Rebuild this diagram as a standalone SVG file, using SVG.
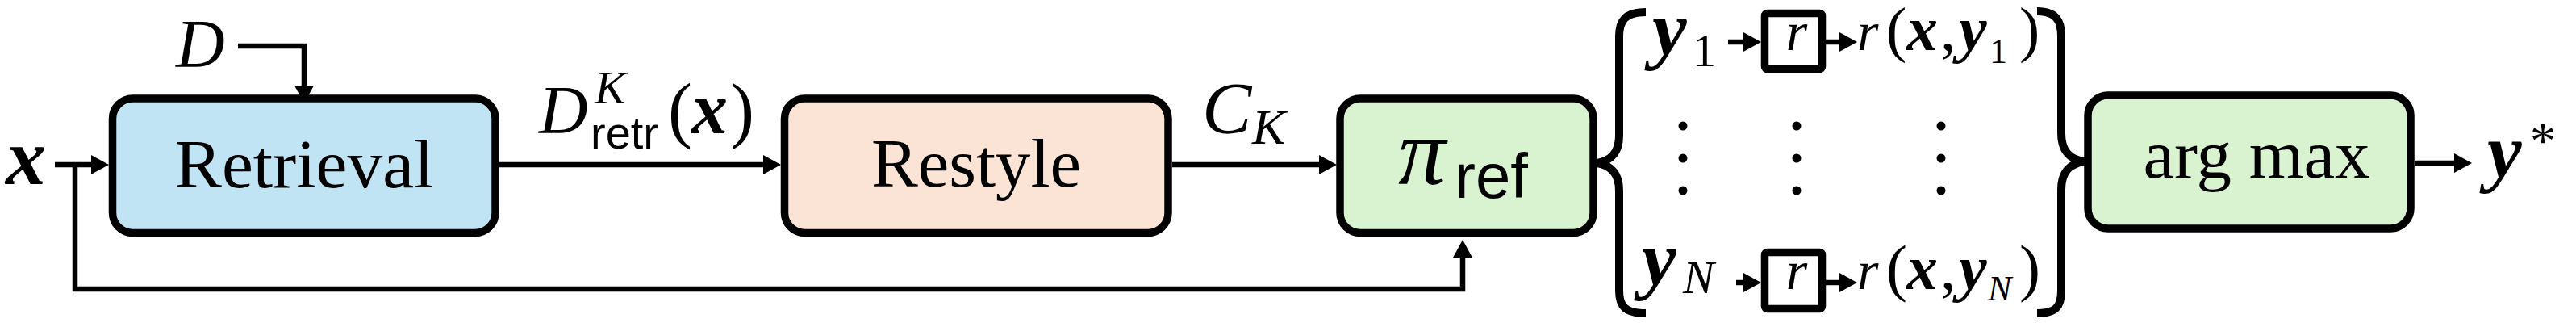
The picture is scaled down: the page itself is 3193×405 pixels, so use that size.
<svg xmlns="http://www.w3.org/2000/svg" width="3193" height="405" viewBox="0 0 3193 405">
<style>
.box{stroke:#000;stroke-width:9.5}
.blue{fill:#C1E4F5}.peach{fill:#FBE3D6}.green{fill:#D9F2D0}
.rbox{fill:#fff;stroke:#000;stroke-width:9.5}
.ln{fill:none;stroke:#000;stroke-width:6.5}
.brace{fill:none;stroke:#000;stroke-width:10}
.rm{font-family:"Liberation Serif","DejaVu Serif",serif;fill:#000}
.it{font-family:"Liberation Serif","DejaVu Serif",serif;font-style:italic;fill:#000}
.bi{font-family:"Liberation Serif","DejaVu Serif",serif;font-style:italic;font-weight:bold;fill:#000}
.sf{font-family:"Liberation Sans","DejaVu Sans",sans-serif;fill:#000}
</style>
<defs>
<marker id="ah" viewBox="0 0 22 24" refX="1" refY="12" markerWidth="22" markerHeight="24" markerUnits="userSpaceOnUse" orient="auto">
<path d="M0,0 L22,12 L0,24 z" fill="#000"/>
</marker>
</defs>

<g id="connectors">
<path class="ln" d="M68,204 H114" marker-end="url(#ah)"/>
<path class="ln" d="M93,204 V358 H1813 V318" marker-end="url(#ah)"/>
<path class="ln" d="M295,57 H377 V107" marker-end="url(#ah)"/>
<path class="ln" d="M618,204 H947" marker-end="url(#ah)"/>
<path class="ln" d="M1453,204 H1636" marker-end="url(#ah)"/>
<path class="ln" d="M2993,202 H3043" marker-end="url(#ah)"/>
<path class="ln" d="M2142,52 H2162" marker-end="url(#ah)"/>
<path class="ln" d="M2263,52 H2281" marker-end="url(#ah)"/>
<path class="ln" d="M2152,350 H2162" marker-end="url(#ah)"/>
<path class="ln" d="M2263,350 H2281" marker-end="url(#ah)"/>
<path class="brace" d="M2040,15 C2015,15 2007,25 2007,45 L2007,168 C2007,190 1996,199 1980,202 C1996,205 2007,214 2007,236 L2007,360 C2007,380 2015,388 2040,388"/>
<path class="brace" d="M2525,14 C2548,14 2555,25 2555,45 L2555,165 C2555,188 2566,197 2583,200 C2566,203 2555,212 2555,235 L2555,360 C2555,380 2548,388 2525,388"/>
</g>

<g id="input-x">
<text class="bi" x="7" y="228" font-size="100">x</text>
</g>

<g id="input-D">
<text class="it" x="218" y="83" font-size="84">D</text>
</g>

<g id="node-retrieval">
<rect class="box blue" x="139.5" y="122" width="474.5" height="166.5" rx="25"/>
<text class="rm" x="377" y="232" font-size="84" text-anchor="middle" textLength="321" lengthAdjust="spacingAndGlyphs">Retrieval</text>
</g>

<g id="label-dretr">
<text class="it" x="668" y="165" font-size="84">D</text>
<text class="it" x="737" y="128" font-size="58">K</text>
<text class="sf" x="732" y="184" font-size="56">retr</text>
<text class="rm" x="828" y="166" font-size="90">(</text>
<text class="bi" x="857" y="165" font-size="90">x</text>
<text class="rm" x="905" y="166" font-size="90">)</text>
</g>

<g id="node-restyle">
<rect class="box peach" x="972.5" y="122" width="475.5" height="166.5" rx="25"/>
<text class="rm" x="1210" y="231" font-size="84" text-anchor="middle" textLength="260" lengthAdjust="spacingAndGlyphs">Restyle</text>
</g>

<g id="label-ck">
<text class="it" x="1490" y="165" font-size="92">C</text>
<text class="it" x="1552" y="178" font-size="62">K</text>
</g>

<g id="node-piref">
<rect class="box green" x="1661" y="122" width="314" height="166.5" rx="25"/>
<text class="it" x="1733" y="228" font-size="118">π</text>
<text class="sf" x="1803" y="245" font-size="78">ref</text>
</g>

<g id="row-1">
<text class="bi" x="2048" y="68" font-size="96">y</text>
<text class="rm" x="2098" y="82" font-size="58">1</text>
<rect class="rbox" x="2187.5" y="16.5" width="71" height="69" rx="3"/>
<text class="it" x="2227" y="62" font-size="68" text-anchor="middle">r</text>
<text class="it" x="2302" y="62" font-size="68">r</text>
<text class="rm" x="2338" y="62" font-size="76">(</text>
<text class="bi" x="2363" y="62" font-size="78">x</text>
<text class="rm" x="2405" y="62" font-size="78">,</text>
<text class="bi" x="2428" y="62" font-size="78">y</text>
<text class="rm" x="2466" y="78" font-size="44">1</text>
<text class="rm" x="2503" y="62" font-size="76">)</text>
</g>

<g id="dots">
<circle cx="2086" cy="156" r="5.5"/><circle cx="2086" cy="196" r="5.5"/><circle cx="2086" cy="236" r="5.5"/>
<circle cx="2227" cy="156" r="5.5"/><circle cx="2227" cy="196" r="5.5"/><circle cx="2227" cy="236" r="5.5"/>
<circle cx="2406" cy="156" r="5.5"/><circle cx="2406" cy="196" r="5.5"/><circle cx="2406" cy="236" r="5.5"/>
</g>

<g id="row-N">
<text class="bi" x="2035" y="353" font-size="96">y</text>
<text class="it" x="2086" y="363" font-size="58">N</text>
<rect class="rbox" x="2187.5" y="312.5" width="71" height="70" rx="3"/>
<text class="it" x="2227" y="358" font-size="68" text-anchor="middle">r</text>
<text class="it" x="2302" y="358" font-size="68">r</text>
<text class="rm" x="2338" y="358" font-size="78">(</text>
<text class="bi" x="2363" y="358" font-size="78">x</text>
<text class="rm" x="2405" y="358" font-size="78">,</text>
<text class="bi" x="2428" y="358" font-size="78">y</text>
<text class="it" x="2464" y="372" font-size="44">N</text>
<text class="rm" x="2503" y="358" font-size="78">)</text>
</g>

<g id="node-argmax">
<rect class="box green" x="2588" y="118" width="400" height="165" rx="25"/>
<text class="rm" x="2797" y="220" font-size="84" text-anchor="middle" textLength="281" lengthAdjust="spacingAndGlyphs">arg max</text>
</g>

<g id="output-y">
<text class="bi" x="3083" y="220" font-size="96">y</text>
<text class="rm" x="3136" y="196" font-size="64">*</text>
</g>
</svg>
